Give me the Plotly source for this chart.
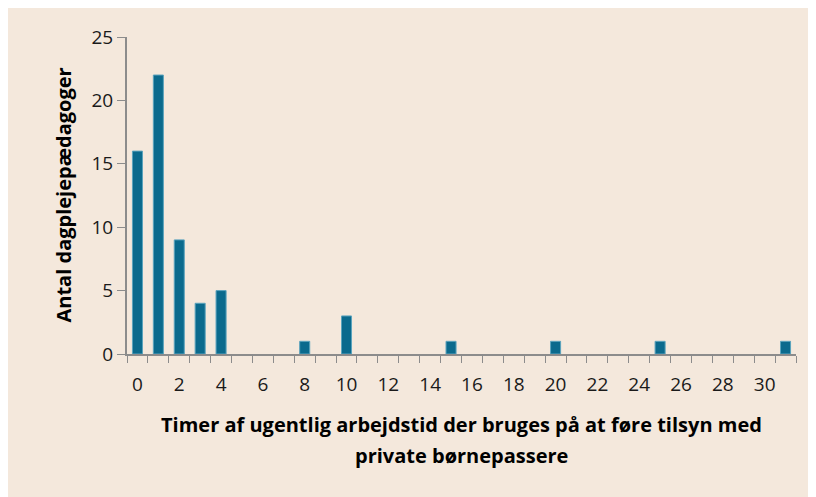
import plotly.graph_objects as go

# Timer pr. uge brugt på tilsyn (kategorier 0..31)
timer = [0, 1, 2, 3, 4, 8, 10, 15, 20, 25, 31]
antal = [16, 22, 9, 4, 5, 1, 3, 1, 1, 1, 1]
kategorier = [str(i) for i in range(32)]
tick_tekst = [k if int(k) % 2 == 0 else "" for k in kategorier]

x_titel_1 = "Timer af ugentlig arbejdstid der bruges på at føre tilsyn med"
x_titel_2 = "private børnepassere"
y_titel = "Antal dagplejepædagoger"

titel_font = dict(family="Open Sans", size=20, color="#000000")

fig = go.Figure()
fig.add_trace(go.Bar(
    x=[str(t) for t in timer],
    y=antal,
    marker=dict(color="#0b6a8d", line=dict(color="#5aa3bd", width=1)),
    width=0.48,
))

# akse-titler som annotationer (to linjer med større linjeafstand)
fig.add_annotation(text="<b>" + x_titel_1 + "</b>", xref="paper", yref="paper",
                   x=0.5, y=0, yanchor="middle", yshift=-70, showarrow=False, font=titel_font)
fig.add_annotation(text="<b>" + x_titel_2 + "</b>", xref="paper", yref="paper",
                   x=0.5, y=0, yanchor="middle", yshift=-101, showarrow=False, font=titel_font)
fig.add_annotation(text="<b>" + y_titel + "</b>", xref="paper", yref="paper",
                   x=0, y=0.5, xanchor="center", xshift=-64, textangle=-90,
                   showarrow=False, font=titel_font)

fig.update_layout(
    width=808,
    height=489,
    paper_bgcolor="#f4e8dc",
    plot_bgcolor="#f4e8dc",
    margin=dict(l=119, r=20, t=29, b=143),
    font=dict(family="Open Sans", size=19, color="#1a1a1a"),
    showlegend=False,
    xaxis=dict(
        type="category",
        categoryorder="array",
        categoryarray=kategorier,
        tickmode="array",
        tickvals=kategorier,
        ticktext=tick_tekst,
        tickangle=0,
        tickson="boundaries",
        ticks="outside",
        ticklen=7,
        tickcolor="#8c8c8c",
        ticklabelstandoff=12,
        showline=True,
        linecolor="#8c8c8c",
        linewidth=2,
        showgrid=False,
        automargin=False,
    ),
    yaxis=dict(
        range=[0, 25],
        tickvals=[0, 5, 10, 15, 20, 25],
        ticks="outside",
        ticklen=8,
        tickcolor="#8c8c8c",
        showline=True,
        linecolor="#8c8c8c",
        linewidth=2,
        showgrid=False,
        zeroline=False,
        automargin=False,
    ),
)

fig.write_html("out.html")
